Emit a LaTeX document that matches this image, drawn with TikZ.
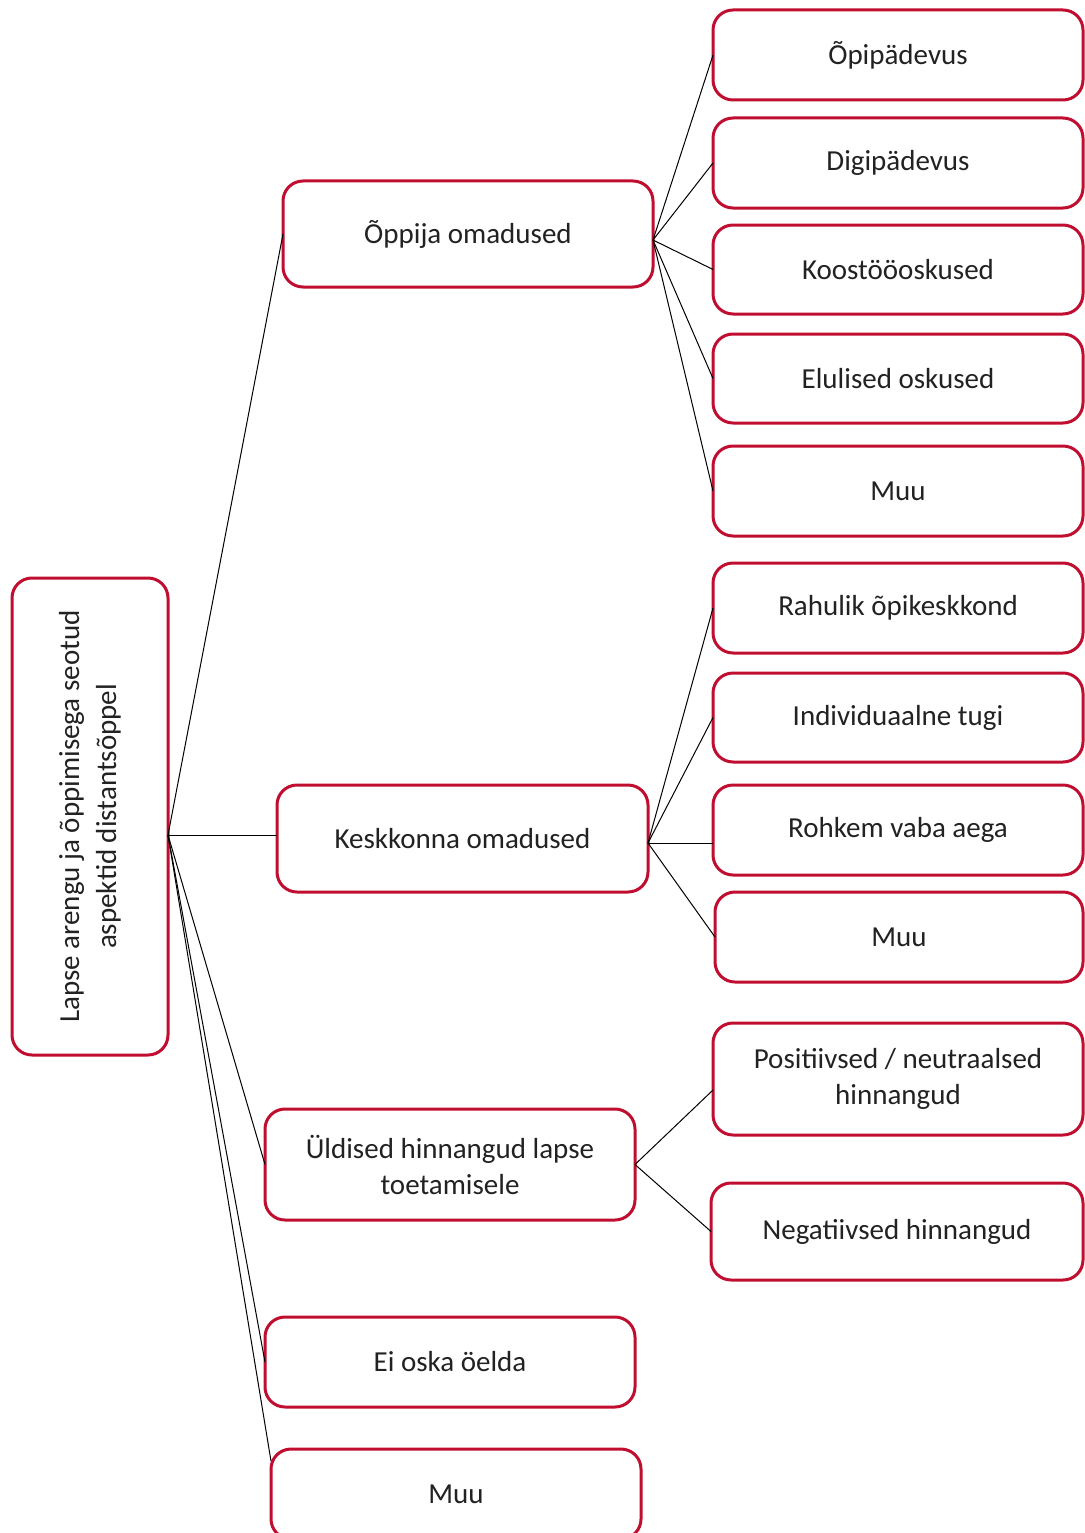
\documentclass[tikz,border=0pt]{standalone}
\usepackage{fontspec}
\setmainfont{Carlito}
\definecolor{boxred}{RGB}{192,14,48}
\definecolor{txt}{RGB}{34,34,34}
\begin{document}
\begin{tikzpicture}[x=1pt,y=-1pt,
  box/.style={draw=boxred, line width=3pt, rounded corners=20pt, fill=white,
    inner sep=0pt, outer sep=0pt, align=center, text=txt,
    font=\fontsize{29}{36}\selectfont},
  link/.style={draw=black, line width=1pt}]
\useasboundingbox (0,0) rectangle (1084,1533);
% root
\node[box, minimum width=156pt, minimum height=477pt] (root) at (90,816.5) {};
\node[rotate=90, align=center, text=txt, font=\fontsize{29}{37}\selectfont] (roottext) at (90,816.5)
  {Lapse arengu ja õppimisega seotud\\aspektid distantsõppel};
% middle column
\node[box, minimum width=370pt, minimum height=106pt] (opp) at (468,234) {Õppija omadused};
\node[box, minimum width=371pt, minimum height=107pt] (kesk) at (462.5,838.5) {Keskkonna omadused};
\node[box, minimum width=370pt, minimum height=111pt] (uld) at (450,1164.5) {Üldised hinnangud lapse\\toetamisele};
\node[box, minimum width=370pt, minimum height=90pt] (ei) at (450,1362) {Ei oska öelda};
\node[box, minimum width=370pt, minimum height=90pt] (muu3) at (456,1494) {Muu};
% right column
\node[box, minimum width=370pt, minimum height=90pt] (a1) at (898,55) {Õpipädevus};
\node[box, minimum width=370pt, minimum height=90pt] (a2) at (898,163) {Digipädevus};
\node[box, minimum width=370pt, minimum height=89pt] (a3) at (898,269.5) {Koostööoskused};
\node[box, minimum width=370pt, minimum height=89pt] (a4) at (898,378.5) {Elulised oskused};
\node[box, minimum width=370pt, minimum height=90pt] (a5) at (898,491) {Muu};
\node[box, minimum width=370pt, minimum height=90pt] (b1) at (898,608) {Rahulik õpikeskkond};
\node[box, minimum width=370pt, minimum height=89pt] (b2) at (898,717.5) {Individuaalne tugi};
\node[box, minimum width=370pt, minimum height=90pt] (b3) at (898,830) {Rohkem vaba aega};
\node[box, minimum width=368pt, minimum height=90pt] (b4) at (899,937) {Muu};
\node[box, minimum width=370pt, minimum height=112pt] (c1) at (898,1079) {Positiivsed / neutraalsed\\hinnangud};
\node[box, minimum width=372pt, minimum height=97pt] (c2) at (897,1231.5) {Negatiivsed hinnangud};
% connector ends
\coordinate (rs) at ([yshift=-18.5pt]root.east);
\coordinate (kt) at ([yshift=3.5pt]kesk.west);
\coordinate (os) at ([yshift=-6pt]opp.east);
\coordinate (ks) at ([yshift=-4.5pt]kesk.east);
\coordinate (us) at (uld.east);
\coordinate (b3t) at ([yshift=-13pt]b3.west);
\coordinate (c1t) at ([yshift=-11pt]c1.west);
\coordinate (m3t) at ([yshift=-12pt]muu3.north west);
% connectors
\draw[link] (rs) -- (opp.west);
\draw[link] (rs) -- (kt);
\draw[link] (rs) -- (uld.west);
\draw[link] (rs) -- (ei.west);
\draw[link] (rs) -- (m3t);
\foreach \t in {a1,a2,a3,a4,a5}{\draw[link] (os) -- (\t.west);}
\draw[link] (ks) -- (b1.west);
\draw[link] (ks) -- (b2.west);
\draw[link] (ks) -- (b3t);
\draw[link] (ks) -- (b4.west);
\draw[link] (us) -- (c1t);
\draw[link] (us) -- (c2.west);
\end{tikzpicture}
\end{document}
